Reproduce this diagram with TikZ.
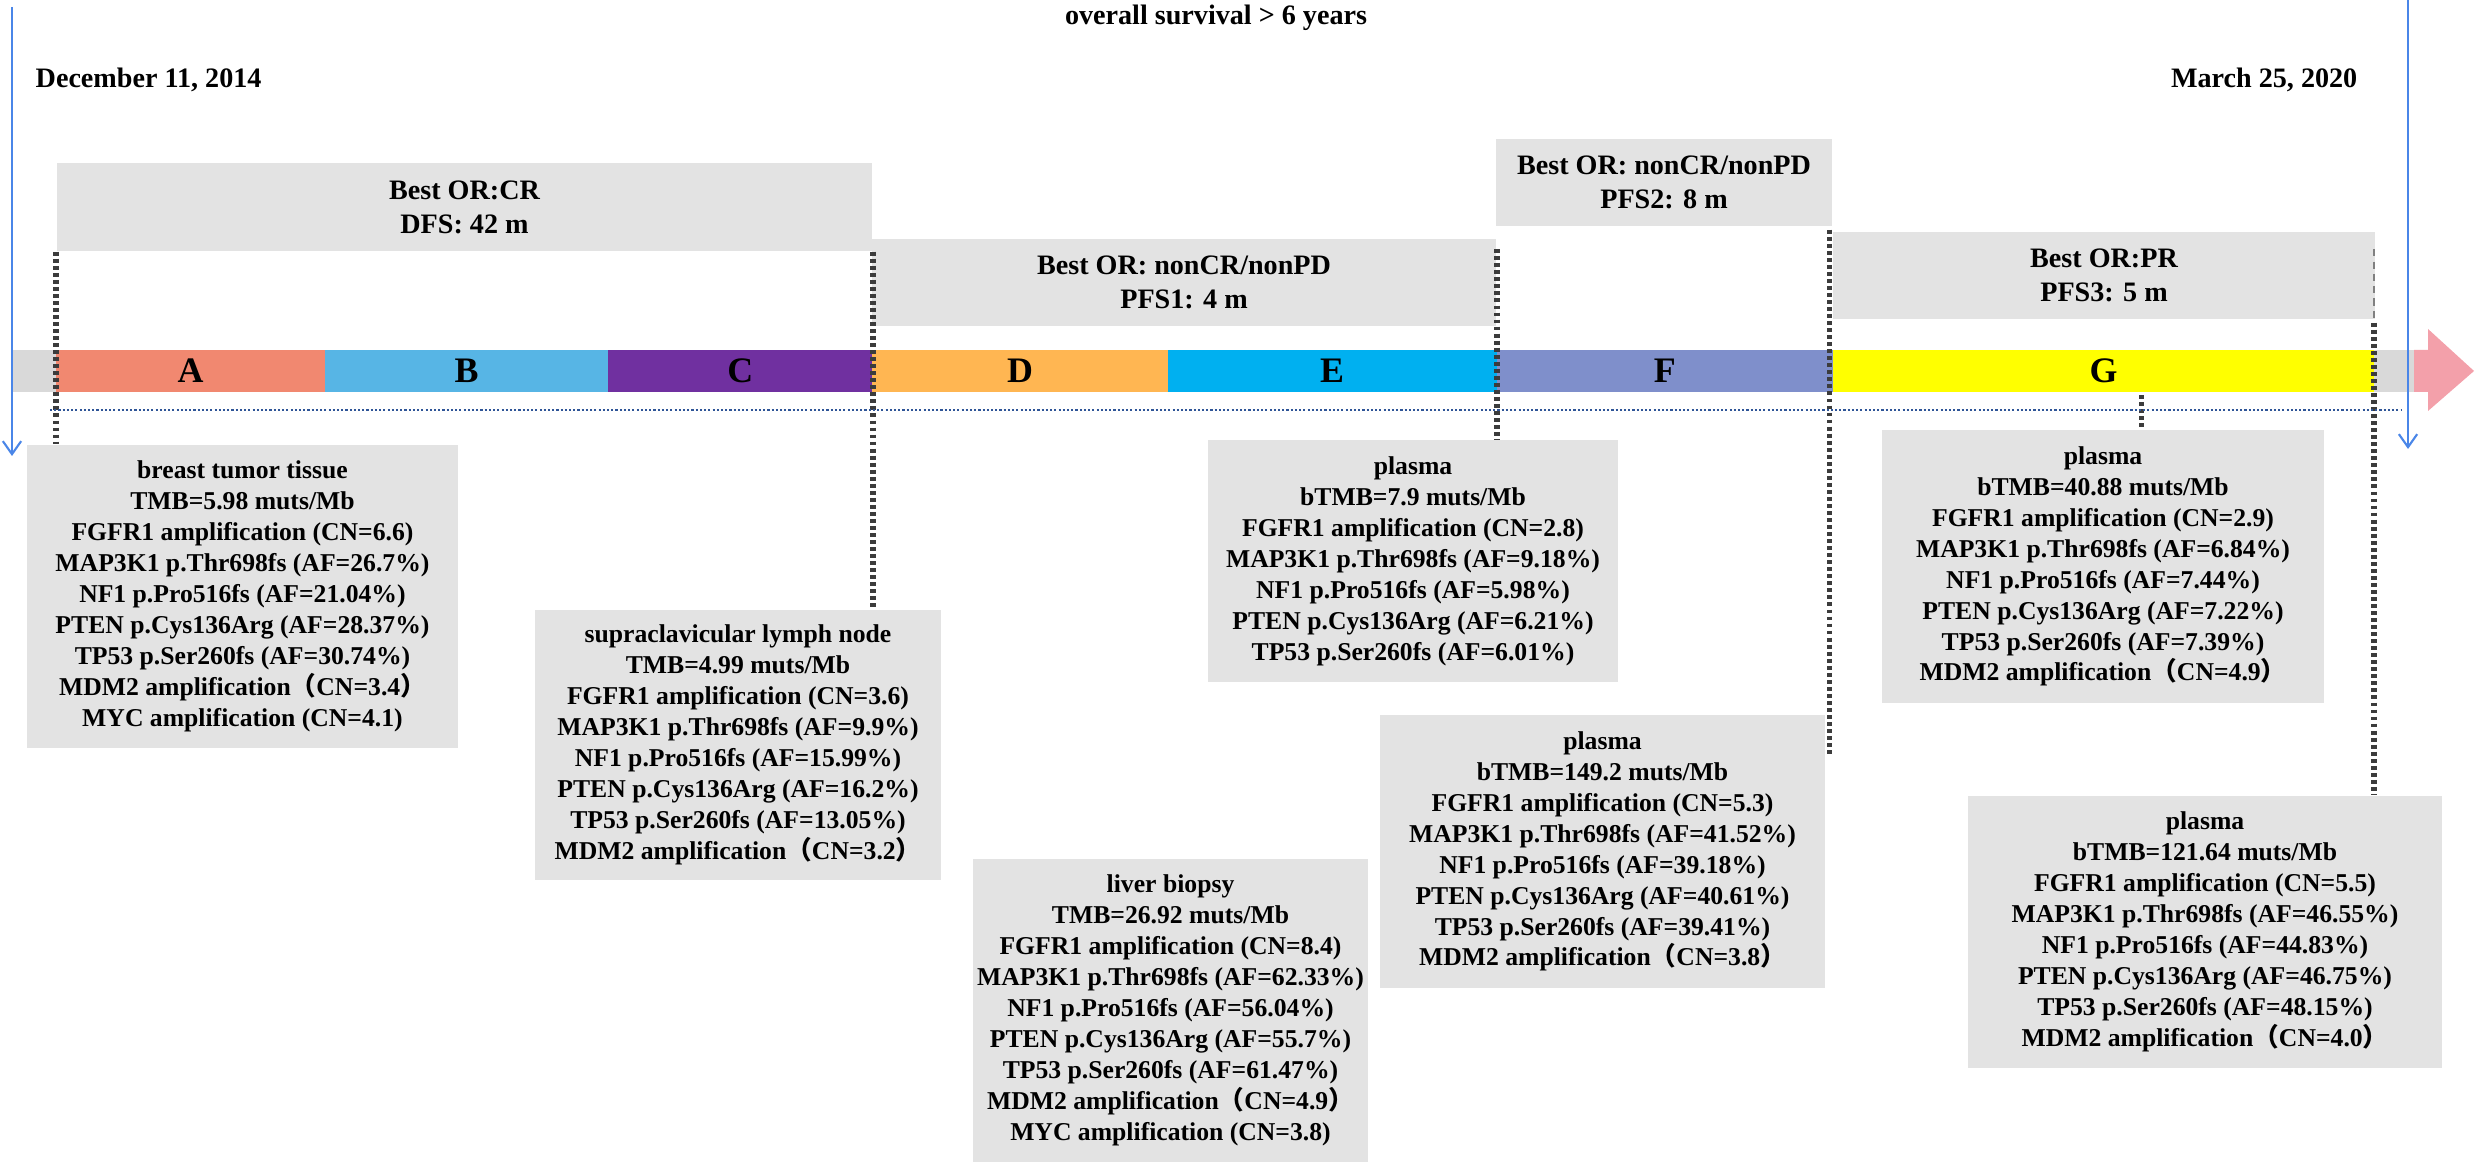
\documentclass[tikz,border=0pt]{standalone}
\usepackage{fontspec}
\setmainfont{Liberation Serif}
\newfontfamily\cjk{Noto Sans CJK SC}
\usetikzlibrary{arrows.meta,positioning,calc}

\definecolor{colA}{RGB}{241,136,112}
\definecolor{colB}{RGB}{87,181,229}
\definecolor{colC}{RGB}{112,48,160}
\definecolor{colD}{RGB}{255,182,82}
\definecolor{colE}{RGB}{0,176,240}
\definecolor{colF}{RGB}{127,143,203}
\definecolor{colG}{RGB}{255,255,0}
\definecolor{boxgrey}{RGB}{227,227,227}
\definecolor{bargrey}{RGB}{217,217,217}
\definecolor{arrowpink}{RGB}{243,160,170}
\definecolor{lineblue}{RGB}{74,134,232}
\definecolor{dotblue}{RGB}{47,85,151}
\definecolor{dotgrey}{RGB}{60,60,60}

\newcommand{\fullL}{{\cjk （}}
\newcommand{\fullR}{{\cjk ）}}

\begin{document}
\begin{tikzpicture}[x=0.01cm,y=-0.01cm,
node distance=0pt,
every node/.style={font=\bfseries}]

\tikzstyle{orbox}=[rectangle, fill=boxgrey, draw=none, inner sep=0pt, align=center,
font=\bfseries\fontsize{8}{9.7}\selectfont]
\tikzstyle{infobox}=[rectangle, fill=boxgrey, draw=none, inner sep=0pt, align=center,
font=\bfseries\fontsize{7.3}{8.8}\selectfont]
\tikzstyle{seg}=[rectangle, draw=none, inner sep=0pt, outer sep=0pt,
minimum height=0.42cm, font=\bfseries\fontsize{10.2}{12}\selectfont]
\tikzstyle{datetext}=[inner sep=0pt, font=\bfseries\fontsize{8}{9.7}\selectfont]
\tikzstyle{vline}=[dotgrey, line width=1.5pt, dash pattern=on 1.1pt off 0.9pt]
\tikzstyle{bluearrow}=[lineblue, line width=0.6pt, -{Straight Barb[length=3.7pt,width=5.2pt]}]

\useasboundingbox (0,0) rectangle (2476,1165);

%dates
\node[datetext] (survival) at (1216,18) {overall survival > 6 years};
\node[datetext, anchor=west] (startdate) at (35,80) {December 11, 2014};
\node[datetext, anchor=east] (enddate) at (2358,80) {March 25, 2020};

%response boxes
\node[orbox, minimum width=8.15cm, minimum height=0.88cm] (dfs) at (464.5,207)
{Best OR:CR\\DFS: 42 m};
\node[orbox, minimum width=6.24cm, minimum height=0.87cm] (pfsone) at (1184,282.5)
{Best OR: nonCR/nonPD\\PFS1: 4 m};
\node[orbox, minimum width=3.36cm, minimum height=0.87cm] (pfstwo) at (1664,182.5)
{Best OR: nonCR/nonPD\\PFS2: 8 m};
\node[orbox, minimum width=5.42cm, minimum height=0.87cm] (pfsthree) at (2104,275.5)
{Best OR:PR\\PFS3: 5 m};

%timeline bar
\fill[bargrey] (13,350) rectangle (2414,392);
\fill[arrowpink] (2414,350) -- (2428,350) -- (2428,329) -- (2474,371)
-- (2428,411) -- (2428,392) -- (2414,392) -- cycle;
\node[seg, fill=colA, minimum width=2.69cm] (segA) at (190.5,371) {A};
\node[seg, fill=colB, minimum width=2.83cm, right=of segA] (segB) {B};
\node[seg, fill=colC, minimum width=2.64cm, right=of segB] (segC) {C};
\node[seg, fill=colD, minimum width=2.95cm, right=of segC] (segD) {D};
\node[seg, fill=colE, minimum width=3.29cm, right=of segD] (segE) {E};
\node[seg, fill=colF, minimum width=3.36cm, right=of segE] (segF) {F};
\node[seg, fill=colG, minimum width=5.41cm, right=of segF] (segG) {G};

%sample boxes
\node[infobox, minimum width=4.31cm, minimum height=3.03cm] (breast) at (242.5,596.5)
{breast tumor tissue\\TMB=5.98 muts/Mb\\FGFR1 amplification (CN=6.6)\\MAP3K1 p.Thr698fs (AF=26.7\%)\\NF1 p.Pro516fs (AF=21.04\%)\\PTEN p.Cys136Arg (AF=28.37\%)\\TP53 p.Ser260fs (AF=30.74\%)\\MDM2 amplification\fullL CN=3.4\fullR\\MYC amplification (CN=4.1)};
\node[infobox, minimum width=4.06cm, minimum height=2.70cm] (lymph) at (738,745)
{supraclavicular lymph node\\TMB=4.99 muts/Mb\\FGFR1 amplification (CN=3.6)\\MAP3K1 p.Thr698fs (AF=9.9\%)\\NF1 p.Pro516fs (AF=15.99\%)\\PTEN p.Cys136Arg (AF=16.2\%)\\TP53 p.Ser260fs (AF=13.05\%)\\MDM2 amplification\fullL CN=3.2\fullR};
\node[infobox, minimum width=3.95cm, minimum height=3.03cm] (liver) at (1170.5,1010.5)
{liver biopsy\\TMB=26.92 muts/Mb\\FGFR1 amplification (CN=8.4)\\MAP3K1 p.Thr698fs (AF=62.33\%)\\NF1 p.Pro516fs (AF=56.04\%)\\PTEN p.Cys136Arg (AF=55.7\%)\\TP53 p.Ser260fs (AF=61.47\%)\\MDM2 amplification\fullL CN=4.9\fullR\\MYC amplification (CN=3.8)};
\node[infobox, minimum width=4.10cm, minimum height=2.42cm] (plasmaE) at (1413,561)
{plasma\\bTMB=7.9 muts/Mb\\FGFR1 amplification (CN=2.8)\\MAP3K1 p.Thr698fs (AF=9.18\%)\\NF1 p.Pro516fs (AF=5.98\%)\\PTEN p.Cys136Arg (AF=6.21\%)\\TP53 p.Ser260fs (AF=6.01\%)};
\node[infobox, minimum width=4.45cm, minimum height=2.73cm] (plasmaF) at (1602.5,851.5)
{plasma\\bTMB=149.2 muts/Mb\\FGFR1 amplification (CN=5.3)\\MAP3K1 p.Thr698fs (AF=41.52\%)\\NF1 p.Pro516fs (AF=39.18\%)\\PTEN p.Cys136Arg (AF=40.61\%)\\TP53 p.Ser260fs (AF=39.41\%)\\MDM2 amplification\fullL CN=3.8\fullR};
\node[infobox, minimum width=4.42cm, minimum height=2.73cm] (plasmaG) at (2103,566.5)
{plasma\\bTMB=40.88 muts/Mb\\FGFR1 amplification (CN=2.9)\\MAP3K1 p.Thr698fs (AF=6.84\%)\\NF1 p.Pro516fs (AF=7.44\%)\\PTEN p.Cys136Arg (AF=7.22\%)\\TP53 p.Ser260fs (AF=7.39\%)\\MDM2 amplification\fullL CN=4.9\fullR};
\node[infobox, minimum width=4.74cm, minimum height=2.72cm] (plasmaEnd) at (2205,932)
{plasma\\bTMB=121.64 muts/Mb\\FGFR1 amplification (CN=5.5)\\MAP3K1 p.Thr698fs (AF=46.55\%)\\NF1 p.Pro516fs (AF=44.83\%)\\PTEN p.Cys136Arg (AF=46.75\%)\\TP53 p.Ser260fs (AF=48.15\%)\\MDM2 amplification\fullL CN=4.0\fullR};

%dotted guides
\draw[vline] (dfs.south west) -- (dfs.south west |- breast.north);
\draw[vline] (dfs.south east) -- (dfs.south east |- lymph.north);
\draw[vline] ($(pfsone.north east)+(0,11)$) -- (pfsone.north east |- plasmaE.north);
\draw[vline] ($(pfstwo.south east)+(-3,3)$) -- ($(pfstwo.south east |- plasmaF.north)+(-3,43)$);
\draw[gray, line width=0.4pt, dash pattern=on 2pt off 1.5pt] ($(pfsthree.north east)+(-2,18)$) -- ($(pfsthree.south east)+(-2,0)$);
\draw[vline] ($(pfsthree.south east)+(-2,3)$) -- ($(pfsthree.south east |- plasmaEnd.north)+(-2,0)$);
\draw[vline] ($(segG.south)+(38,3)$) -- ($(segG.south |- plasmaG.north)+(38,0)$);

%blue guides
\coordinate (lefttop) at (12,7);
\coordinate (leftend) at (12,456);
\coordinate (righttop) at (2408,0);
\coordinate (rightend) at (2408,449);
\coordinate (dotstart) at (50,410);
\coordinate (dotend) at (2402,410);
\draw[dotblue, line width=0.6pt, dash pattern=on 0.6pt off 0.6pt] (dotstart) -- (dotend);
\draw[bluearrow] (lefttop) -- (leftend);
\draw[bluearrow] (righttop) -- (rightend);

\end{tikzpicture}
\end{document}
